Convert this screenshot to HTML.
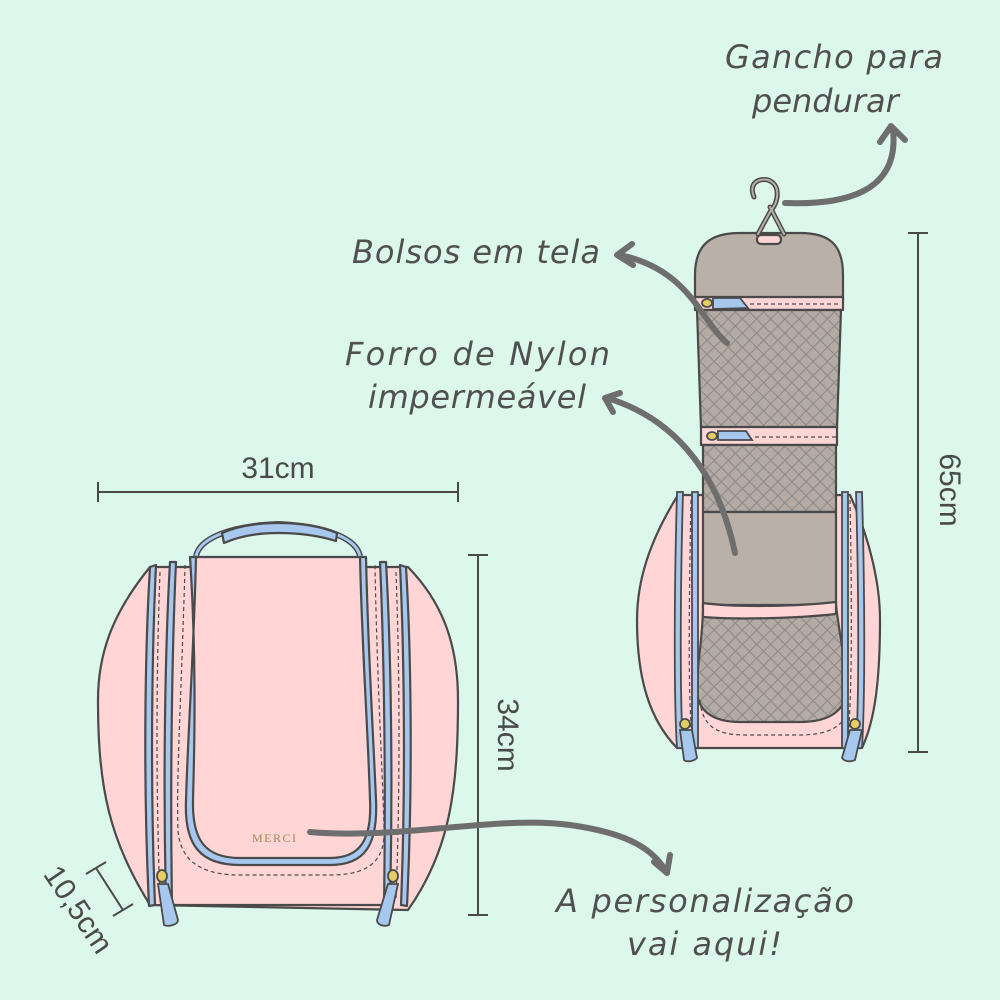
<!DOCTYPE html>
<html><head><meta charset="utf-8"><style>
html,body{margin:0;padding:0;background:#dcf7ec}
svg{display:block}
.t{font-family:"DejaVu Sans","Liberation Sans",sans-serif;font-style:italic;fill:#505050;font-size:32px;font-weight:300}
</style></head><body>
<svg width="1000" height="1000" viewBox="0 0 1000 1000" xmlns="http://www.w3.org/2000/svg">
<defs>
<pattern id="mesh" width="10" height="10" patternUnits="userSpaceOnUse" patternTransform="rotate(45)">
<rect width="10" height="10" fill="#b4aca4"/>
<path d="M0 0H10M0 0V10" stroke="#8e8a88" stroke-width="2.2"/>
</pattern>
</defs>
<rect width="1000" height="1000" fill="#dcf7ec"/>

<!-- LEFT BAG -->
<g stroke="#4a4a4a" stroke-width="2.2" stroke-linejoin="round">
<path d="M150 567 C115 610 98 650 98 700 C98 790 110 840 150 905 L408 910 C450 850 458 790 458 700 C458 640 440 600 408 567 Z" fill="#ffd5d6"/>
<path d="M193 557 L363 557 L363 600 L193 600 Z" fill="#ffd5d6" stroke="none"/>
<path d="M193 557 L363 557" fill="none"/>
<path d="M170 905 L385 905" fill="none"/>
<path d="M196 556 C200 538 230 526 278 524 C326 526 356 538 360 556" fill="none" stroke="#4a4a4a" stroke-width="6"/>
<path d="M196 556 C200 538 230 526 278 524 C326 526 356 538 360 556" fill="none" stroke="#a6c8ee" stroke-width="3"/>
<path d="M222 533 C240 525 260 523 278 523 C300 523 320 526 337 533 L336 541 C320 536 300 533 278 533 C258 533 240 536 224 543 Z" fill="#a6c8ee"/>
<path d="M150 567 L156 565 C152 650 150 780 155 905 L149 906 C143 780 145 650 150 567Z" fill="#a6c8ee"/>
<path d="M170 562 L176 562 C172 650 170 780 172 905 L166 905 C163 780 165 650 170 562Z" fill="#a6c8ee"/>
<path d="M406 567 L400 565 C404 650 406 780 401 905 L407 906 C413 780 411 650 406 567Z" fill="#a6c8ee"/>
<path d="M386 562 L380 562 C384 650 386 780 384 905 L390 905 C393 780 391 650 386 562Z" fill="#a6c8ee"/>
<path d="M190 557 L196 557 C194 650 188 730 186 800 C184 845 200 865 240 865 L330 865 C365 865 378 845 376 800 C373 730 368 650 366 557 L360 557 C362 650 368 730 370 800 C372 840 360 858 330 858 L240 858 C205 858 192 840 193 800 C195 730 196 650 190 557Z" fill="#a6c8ee"/>
</g>
<g fill="none" stroke="#4a4a4a" stroke-width="1.2" stroke-dasharray="4 3">
<path d="M160 572 C156 680 156 790 160 900"/>
<path d="M185 565 C182 680 176 780 178 830 C180 860 200 875 240 875 L330 875 C370 875 385 860 384 830 C383 780 377 680 375 565"/>
<path d="M396 572 C400 680 400 790 396 900"/>
</g>
<g stroke="#4a4a4a" stroke-width="1.8">
<ellipse cx="162" cy="876" rx="5" ry="6" fill="#e3cd67"/>
<path d="M158 884 L168 884 L178 920 C178 925 168 927 164 925 Z" fill="#a6c8ee"/>
<ellipse cx="393" cy="876" rx="5" ry="6" fill="#e3cd67"/>
<path d="M388 884 L398 884 L389 925 C384 927 377 925 377 920 Z" fill="#a6c8ee"/>
</g>
<text x="252" y="842" font-family="Liberation Serif,serif" font-size="12" letter-spacing="1.5" fill="#a08a55">MERCI</text>

<!-- RIGHT BAG -->
<g stroke="#4a4a4a" stroke-width="2.2" stroke-linejoin="round">
<path d="M678 495 C650 540 637 580 637 620 C637 680 650 720 677 748 L862 748 C875 720 880 680 880 620 C880 580 868 535 850 495 Z" fill="#ffd5d6"/>
<path d="M695 275 C695 245 710 233 740 233 L800 233 C830 233 843 245 843 275 L843 300 L695 300 Z" fill="#b9b0a7"/>
<rect x="695" y="297" width="148" height="13" fill="#ffd5d6"/>
<path d="M697 310 L841 310 L837 428 L701 428 Z" fill="url(#mesh)"/>
<rect x="701" y="427" width="136" height="18" fill="#ffd5d6"/>
<rect x="703" y="445" width="133" height="67" fill="url(#mesh)"/>
<rect x="703" y="512" width="133" height="95" fill="#b9b0a7"/>
<path d="M703 605 L836 605 C840 640 846 660 846 690 C846 710 830 722 800 722 L740 722 C712 722 697 710 697 690 C697 660 703 640 703 605Z" fill="url(#mesh)"/>
<path d="M703 603 C740 608 800 606 836 602 L836 614 C800 618 740 620 703 617Z" fill="#ffd5d6"/>
<rect x="757" y="235" width="24" height="9" rx="4" fill="#ffd5d6"/>
</g>
<g fill="none" stroke="#4a4a4a" stroke-width="1.2" stroke-dasharray="4 3">
<path d="M750 304 L840 304"/><path d="M755 437 L836 437"/>
<path d="M691 500 C689 600 688 700 692 735"/><path d="M850 500 C852 600 852 700 848 735"/>
<path d="M700 700 C702 725 715 735 745 735 L800 735 C830 735 850 725 848 700"/>
</g>
<g stroke="#4a4a4a" stroke-width="1.8">
<path d="M713 298 L740 298 L748 308 L713 309 Z" fill="#a6c8ee"/>
<ellipse cx="707" cy="303" rx="5" ry="4" fill="#e3cd67"/>
<path d="M718 431 L746 431 L752 440 L718 440 Z" fill="#a6c8ee"/>
<ellipse cx="712" cy="436" rx="5" ry="4" fill="#e3cd67"/>
<path d="M677 492 L683 492 C680 600 680 700 683 748 L677 748 C674 700 674 600 677 492Z" fill="#a6c8ee"/>
<path d="M692 492 L698 492 L698 748 L692 748Z" fill="#a6c8ee"/>
<path d="M862 492 L856 492 C859 600 859 700 856 748 L862 748 C865 700 865 600 862 492Z" fill="#a6c8ee"/>
<path d="M848 492 L842 492 L842 748 L848 748Z" fill="#a6c8ee"/>
<ellipse cx="685" cy="724" rx="5" ry="5" fill="#e3cd67"/>
<path d="M680 730 L692 730 L697 758 C693 762 686 762 684 760 Z" fill="#a6c8ee"/>
<ellipse cx="855" cy="724" rx="5" ry="5" fill="#e3cd67"/>
<path d="M850 730 L862 730 L855 760 C851 762 845 762 842 758 Z" fill="#a6c8ee"/>
</g>
<path d="M754 197 C748 182 760 178 768 180 C780 184 780 200 770 212 L758 234 M770 207 L784 234" fill="none" stroke="#4a4a4a" stroke-width="5" stroke-linecap="round"/>
<path d="M754 197 C748 182 760 178 768 180 C780 184 780 200 770 212 L758 234 M770 207 L784 234" fill="none" stroke="#b9b0a7" stroke-width="2" stroke-linecap="round"/>

<g stroke="#4a4a4a" stroke-width="2">
<path d="M98 492 H458 M98 482 V502 M458 482 V502"/>
<path d="M478 555 V915 M468 555 H488 M468 915 H488"/>
<path d="M918 233 V752 M908 233 H928 M908 752 H928"/>
<path d="M96 868 L123 910 M86 874 L106 862 M113 916 L133 904"/>
</g>

<g fill="none" stroke="#6e6e6e" stroke-width="6" stroke-linecap="round" stroke-linejoin="round">
<path d="M785 203 C840 205 900 195 893 130"/>
<path d="M880 142 L891 126 L905 140"/>
<path d="M727 343 C700 320 690 270 620 255"/>
<path d="M632 244 L617 255 L633 265"/>
<path d="M735 553 C720 480 680 420 607 398"/>
<path d="M620 393 L605 398 L613 412"/>
<path d="M310 832 C400 840 500 815 570 825 C620 832 650 845 665 870"/>
<path d="M654 862 L667 873 L670 855"/>
</g>

<text class="t" x="725" y="68" textLength="218">Gancho para</text>
<text class="t" x="752" y="112">pendurar</text>
<text class="t" x="352" y="263" textLength="248">Bolsos em tela</text>
<text class="t" x="345" y="365" textLength="265">Forro de Nylon</text>
<text class="t" x="368" y="408" textLength="218">impermeável</text>
<text class="t" x="556" y="912" textLength="298">A personalização</text>
<text class="t" x="627" y="955" textLength="155">vai aqui!</text>
<text x="278" y="478" font-family="Liberation Sans,sans-serif" font-size="30" fill="#4a4a4a" text-anchor="middle">31cm</text>
<text transform="translate(498,735) rotate(90)" font-family="Liberation Sans,sans-serif" font-size="30" fill="#4a4a4a" text-anchor="middle">34cm</text>
<text transform="translate(940,490) rotate(90)" font-family="Liberation Sans,sans-serif" font-size="30" fill="#4a4a4a" text-anchor="middle">65cm</text>
<text transform="translate(70,915) rotate(56)" font-family="Liberation Sans,sans-serif" font-size="30" fill="#4a4a4a" text-anchor="middle">10,5cm</text>
</svg>
</body></html>
